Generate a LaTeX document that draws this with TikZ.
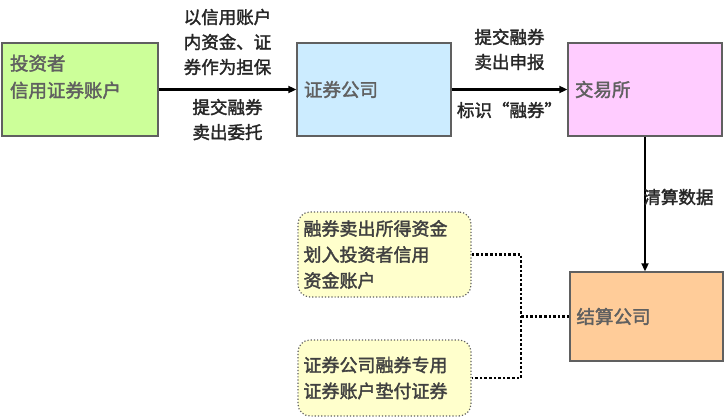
\documentclass[tikz,border=0pt]{standalone}
\usepackage{fontspec}
\setmainfont{Noto Sans CJK SC}[AutoFakeBold=2]
\usetikzlibrary{arrows.meta}

\definecolor{invgreen}{RGB}{204,255,153}
\definecolor{secblue}{RGB}{204,236,255}
\definecolor{expink}{RGB}{255,204,255}
\definecolor{clrorange}{RGB}{255,204,153}
\definecolor{noteyellow}{RGB}{255,255,204}
\definecolor{boxgrey}{RGB}{96,96,96}

\tikzset{
  box/.style={draw=boxgrey, line width=1.4pt, minimum width=154pt, minimum height=93pt,
    text width=140pt, align=left, inner sep=5pt, font=\fontsize{18.5}{27}\selectfont\bfseries, text=boxgrey},
  note/.style={draw=boxgrey, dotted, line width=1.2pt, rounded corners=12pt, fill=noteyellow,
    minimum width=173pt, text width=162pt, align=left, inner sep=5pt,
    font=\fontsize{18}{26}\selectfont\bfseries, text=black!75},
  lbl/.style={align=center, font=\fontsize{17.5}{25}\selectfont\bfseries, text=black!85},
  flow/.style={line width=2.2pt, -{Triangle[length=8pt,width=7pt]}},
  dots/.style={line width=2.6pt, dash pattern=on 2.6pt off 2pt}
}

\begin{document}
\begin{tikzpicture}[x=1pt,y=-1pt]
    \useasboundingbox (0,0) rectangle (724,420);
    \node[box, fill=invgreen, minimum width=156pt] (inv) at (80,89.5) {投资者\\信用证券账户\\\mbox{}};
    \node[box, fill=secblue] (sec) at (374,89.5) {证券公司};
    \node[box, fill=expink] (ex) at (645,89.5) {交易所};
    \node[box, fill=clrorange, minimum width=153pt, minimum height=89pt] (clr) at (646.5,316.5) {结算公司};
    \node[note, minimum height=85pt] (fund) at (384.5,254.5) {融券卖出所得资金\\划入投资者信用\\资金账户};
    \node[note, minimum height=76pt] (stock) at (384.5,378) {证券公司融券专用\\证券账户垫付证券};
    \coordinate (jn) at (521,0);

    \draw[flow] (inv) -- node[lbl, above=10pt] {以信用账户\\内资金、证\\券作为担保}
        node[lbl, below=5pt] {提交融券\\卖出委托} (sec);
    \draw[flow] (sec) -- node[lbl, above=15pt] {提交融券\\卖出申报}
        node[lbl, below=8pt] {标识“融券”} (ex);
    \draw[flow] (ex.south) -- node[lbl, right=-6pt, yshift=7pt] {清算数据} (ex.south |- clr.north);

    \draw[dots] (fund.east) -- (fund.east -| jn) -- (stock.east -| jn) -- (stock.east);
    \draw[dots] (jn |- clr.west) -- (clr.west);
\end{tikzpicture}
\end{document}
